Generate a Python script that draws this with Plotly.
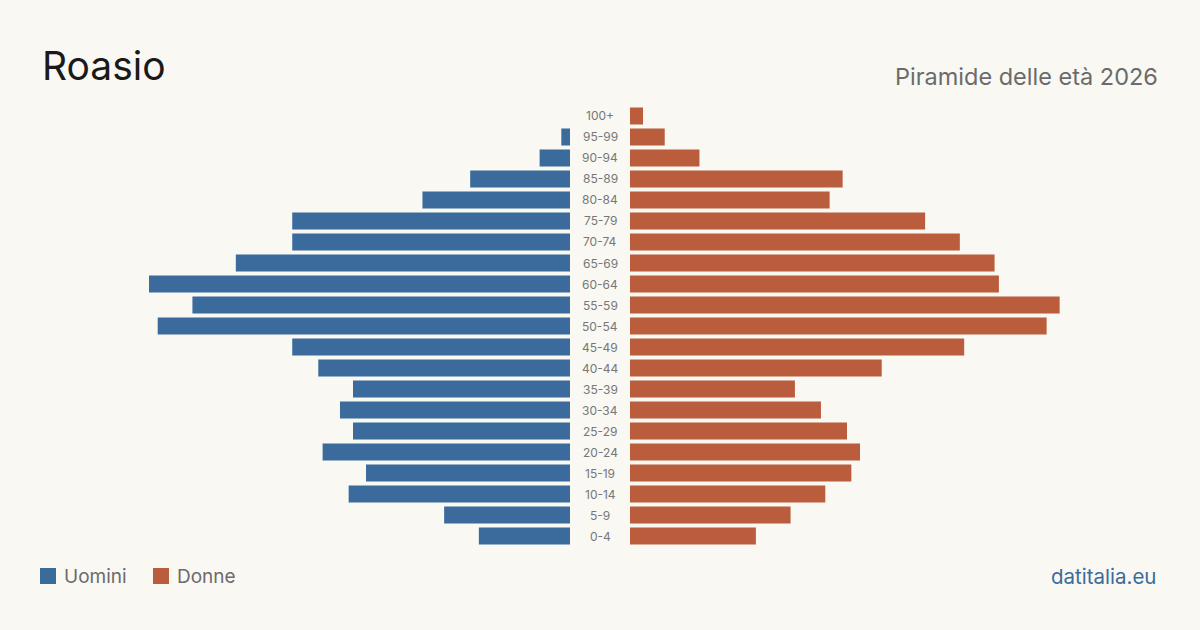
import plotly.graph_objects as go

age_groups = ["0-4", "5-9", "10-14", "15-19", "20-24", "25-29", "30-34", "35-39",
              "40-44", "45-49", "50-54", "55-59", "60-64", "65-69", "70-74", "75-79",
              "80-84", "85-89", "90-94", "95-99", "100+"]
men = [21, 29, 51, 47, 57, 50, 53, 50, 58, 64, 95, 87, 97, 77, 64, 64, 34, 23, 7, 2, 0]
women = [29, 37, 45, 51, 53, 50, 44, 38, 58, 77, 96, 99, 85, 84, 76, 68, 46, 49, 16, 8, 3]

title = "Roasio"
subtitle = "Piramide delle età 2026"
legend_labels = ["Uomini", "Donne"]
source = "datitalia.eu"

W, H = 1200, 630
BLUE = "#3b6b9c"
ORANGE = "#b95d3c"
BG = "#f9f8f3"
FONT = "Inter, 'Noto Sans', sans-serif"

k = 4.34  # px per person
left_px = (130, 570)
right_px = (630, 1070)
R = (left_px[1] - left_px[0]) / k

top_px, bot_px = 105.5, 546.5

fig = go.Figure()
fig.add_trace(go.Bar(y=age_groups, x=men, orientation="h", marker_color=BLUE,
                     marker_line_width=0,
                     xaxis="x", yaxis="y", name=legend_labels[0], showlegend=False))
fig.add_trace(go.Bar(y=age_groups, x=women, orientation="h", marker_color=ORANGE,
                     marker_line_width=0,
                     xaxis="x2", yaxis="y", name=legend_labels[1], showlegend=False))

for g in age_groups:
    fig.add_annotation(x=0.5, xref="paper", y=g, yref="y", text=g, showarrow=False,
                       font=dict(size=12, color="#777777", family=FONT),
                       xanchor="center", yanchor="middle")

fig.add_annotation(x=40 / W, y=1 - 66 / H, xref="paper", yref="paper", text=title,
                   showarrow=False, xanchor="left", yanchor="middle",
                   font=dict(size=39, color="#1a1a1a", family=FONT))
fig.add_annotation(x=1160 / W, y=1 - 76.5 / H, xref="paper", yref="paper", text=subtitle,
                   showarrow=False, xanchor="right", yanchor="middle",
                   font=dict(size=23.5, color="#6b6b6b", family=FONT))
fig.add_annotation(x=1158 / W, y=1 - 576 / H, xref="paper", yref="paper", text=source,
                   showarrow=False, xanchor="right", yanchor="middle",
                   font=dict(size=20.5, color=BLUE, family=FONT))

# legend
for x0, col, lab in [(40, BLUE, legend_labels[0]), (153, ORANGE, legend_labels[1])]:
    fig.add_shape(type="rect", xref="paper", yref="paper",
                  x0=x0 / W, x1=(x0 + 16) / W, y0=1 - 584 / H, y1=1 - 568 / H,
                  fillcolor=col, line_width=0)
    fig.add_annotation(x=(x0 + 22) / W, y=1 - 576 / H, xref="paper", yref="paper", text=lab,
                       showarrow=False, xanchor="left", yanchor="middle",
                       font=dict(size=19, color="#6b6b6b", family=FONT))

fig.update_layout(
    width=W, height=H, margin=dict(l=0, r=0, t=0, b=0),
    paper_bgcolor=BG, plot_bgcolor=BG, bargap=4 / 21,
    xaxis=dict(domain=[left_px[0] / W, left_px[1] / W], range=[R, 0], visible=False, fixedrange=True),
    xaxis2=dict(domain=[right_px[0] / W, right_px[1] / W], range=[0, R], visible=False, fixedrange=True),
    yaxis=dict(domain=[1 - bot_px / H, 1 - top_px / H], range=[-0.5, 20.5], type="category",
               categoryorder="array", categoryarray=age_groups, visible=False, fixedrange=True),
    font=dict(family=FONT),
)

fig.write_html("out.html")
